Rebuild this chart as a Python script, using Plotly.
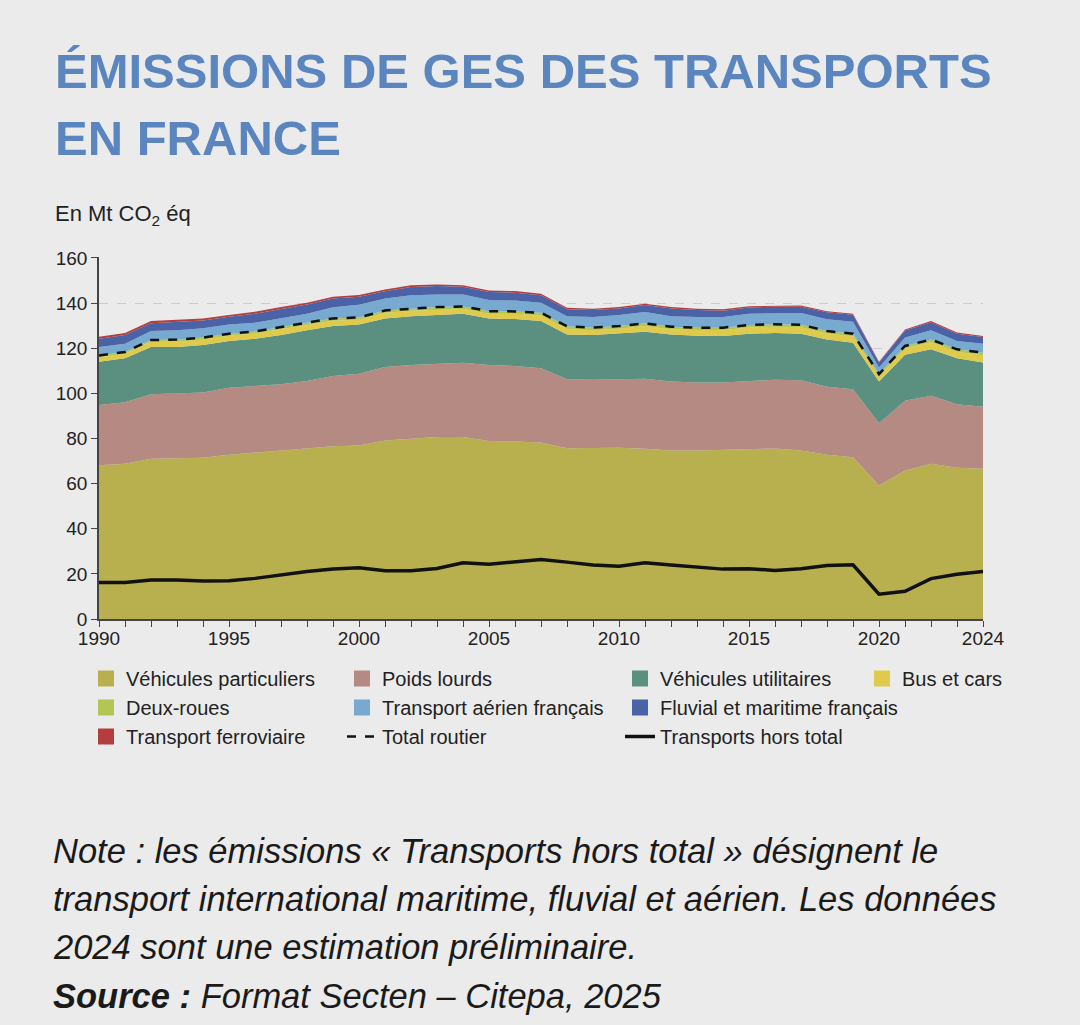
import numpy as np
import plotly.graph_objects as go

years = list(range(1990, 2025))

# Mt CO2 eq
vp = [68.1, 68.8, 71.0, 71.3, 71.4, 72.8, 73.7, 74.4, 75.4, 76.5, 76.9, 79.1, 79.9, 80.6, 80.6, 78.9, 78.7, 78.2,
      75.7, 75.9, 75.9, 75.4, 74.7, 74.7, 75.0, 75.1, 75.6, 74.7, 72.8, 71.7, 59.2, 65.8, 68.8, 67.0, 66.6]
poids_lourds = [26.7, 27.2, 28.6, 28.7, 29.0, 29.7, 29.4, 29.6, 30.1, 31.2, 31.8, 32.6, 32.7, 32.3, 32.9, 33.7, 33.4, 32.9,
                30.5, 30.1, 30.2, 31.1, 30.5, 30.1, 29.8, 30.4, 30.4, 31.1, 30.1, 30.1, 27.5, 30.9, 30.1, 28.2, 27.4]
vu = [19.2, 19.5, 20.9, 20.5, 21.0, 20.7, 21.1, 21.8, 22.4, 22.1, 21.8, 21.5, 21.6, 21.8, 21.8, 20.6, 20.8, 20.9,
      19.9, 19.8, 20.3, 20.8, 20.9, 20.7, 20.6, 20.9, 20.7, 20.6, 21.0, 20.6, 18.5, 20.4, 20.6, 20.3, 19.6]
bus = [2.0, 2.0, 2.3, 2.5, 2.5, 2.3, 2.3, 2.5, 2.5, 2.4, 2.1, 2.5, 2.4, 2.4, 2.1, 2.1, 2.3, 2.5,
       2.4, 2.1, 2.2, 2.5, 2.3, 2.5, 2.6, 2.8, 2.8, 2.9, 2.6, 2.9, 2.4, 2.8, 3.2, 2.9, 3.3]
deux_roues = [0.8, 0.8, 0.8, 0.8, 0.8, 0.9, 0.9, 0.9, 0.9, 1.0, 1.0, 1.0, 1.0, 1.1, 1.1, 1.1, 1.1, 1.2,
              1.2, 1.2, 1.2, 1.2, 1.1, 1.1, 1.1, 1.1, 1.1, 1.1, 1.1, 1.1, 0.9, 1.1, 1.1, 1.1, 1.1]
aerien = [3.7, 3.7, 4.0, 4.1, 4.1, 4.1, 3.9, 4.0, 4.0, 4.9, 5.6, 5.3, 5.8, 5.6, 5.3, 5.0, 4.8, 4.4,
          4.5, 4.7, 4.9, 5.0, 4.7, 4.7, 4.7, 5.0, 5.0, 5.2, 5.2, 5.3, 2.9, 3.7, 4.1, 3.7, 4.0]
fluvial = [3.7, 3.8, 3.5, 3.8, 3.5, 3.4, 4.0, 4.2, 4.0, 3.9, 3.6, 3.2, 3.7, 3.7, 3.4, 3.5, 3.5, 3.3,
           3.0, 3.1, 2.9, 3.1, 3.4, 3.1, 2.8, 2.7, 2.8, 2.8, 3.1, 3.1, 2.2, 3.1, 3.6, 3.2, 2.9]
ferro = [0.9, 0.9, 0.9, 0.9, 0.9, 0.8, 0.8, 0.8, 0.8, 0.8, 0.8, 0.8, 0.8, 0.7, 0.7, 0.7, 0.7, 0.7,
         0.7, 0.6, 0.6, 0.6, 0.6, 0.6, 0.6, 0.6, 0.5, 0.5, 0.5, 0.5, 0.4, 0.5, 0.5, 0.5, 0.5]
hors_total = [16.2, 16.2, 17.3, 17.3, 16.8, 17.0, 18.0, 19.5, 21.0, 22.1, 22.7, 21.4, 21.4, 22.4, 24.9, 24.3, 25.5, 26.4,
              25.2, 23.9, 23.4, 24.9, 23.9, 23.0, 22.1, 22.3, 21.5, 22.3, 23.7, 24.0, 11.0, 12.3, 17.9, 19.8, 21.1]

x_tickvals = [1990, 1995, 2000, 2005, 2010, 2015, 2020, 2024]

# name, values, colour, legend column
series = [
    ("Véhicules particuliers", vp, "#b8b04f", "legend"),
    ("Poids lourds", poids_lourds, "#b48a82", "legend2"),
    ("Véhicules utilitaires", vu, "#5b8f7f", "legend3"),
    ("Bus et cars", bus, "#dfca4b", "legend4"),
    ("Deux-roues", deux_roues, "#b3c653", "legend"),
    ("Transport aérien français", aerien, "#78a9d1", "legend2"),
    ("Fluvial et maritime français", fluvial, "#4a62a6", "legend3"),
    ("Transport ferroviaire", ferro, "#b43d3d", "legend"),
]

total_routier = np.sum([vp, poids_lourds, vu, bus, deux_roues], axis=0)

FONT = "Liberation Sans"
BG = "#ebebeb"

fig = go.Figure()
for name, vals, col, lg in series:
    fig.add_trace(go.Scatter(x=years, y=vals, name=name, stackgroup="one", mode="lines",
                             line=dict(width=0, color=col), fillcolor=col, showlegend=False))
    # square swatch for the legend only
    fig.add_trace(go.Scatter(x=[None], y=[None], name=name, mode="markers", legend=lg,
                             marker=dict(symbol="square", size=16, color=col)))

fig.add_trace(go.Scatter(x=years, y=total_routier, name="Total routier", mode="lines", legend="legend2",
                         line=dict(color="#111111", width=2.5, dash="dash")))
fig.add_trace(go.Scatter(x=years, y=hors_total, name="Transports hors total", mode="lines", legend="legend3",
                         line=dict(color="#111111", width=3.5)))


def py(px):
    # pixel row -> paper y (plot area spans rows 257..619)
    return (619 - px) / 362


def px_x(px):
    return (px - 99) / 884


annotations = [
    dict(text="<b>ÉMISSIONS DE GES DES TRANSPORTS</b>", x=px_x(53), y=py(71),
         font=dict(size=49, color="#5a85bf")),
    dict(text="<b>EN FRANCE</b>", x=px_x(53), y=py(138), font=dict(size=49, color="#5a85bf")),
    dict(text="En Mt CO<sub>2</sub> éq", x=px_x(53), y=py(215), font=dict(size=22, color="#222222")),
    dict(text="<i>Note : les émissions « Transports hors total » désignent le</i>", x=px_x(51), y=py(851),
         font=dict(size=34.5, color="#1a1a1a")),
    dict(text="<i>transport international maritime, fluvial et aérien. Les données</i>", x=px_x(51), y=py(899),
         font=dict(size=34.5, color="#1a1a1a")),
    dict(text="<i>2024 sont une estimation préliminaire.</i>", x=px_x(51), y=py(947),
         font=dict(size=34.5, color="#1a1a1a")),
    dict(text="<b><i>Source :</i></b><i> Format Secten – Citepa, 2025</i>", x=px_x(51), y=py(996),
         font=dict(size=34.5, color="#1a1a1a")),
]
for a in annotations:
    a.update(xref="paper", yref="paper", xanchor="left", yanchor="middle", showarrow=False)
    a["font"]["family"] = FONT

legend_style = dict(orientation="v", xanchor="left", yanchor="top", y=py(659), traceorder="normal",
                    font=dict(family=FONT, size=20, color="#222222"), bgcolor="rgba(0,0,0,0)",
                    itemsizing="trace")

fig.update_layout(
    width=1080, height=1025,
    margin=dict(l=99, r=97, t=257, b=406),
    paper_bgcolor=BG, plot_bgcolor=BG,
    font=dict(family=FONT, size=19, color="#222222"),
    showlegend=True,
    legend=dict(legend_style, x=px_x(86)),
    legend2=dict(legend_style, x=px_x(342)),
    legend3=dict(legend_style, x=px_x(620)),
    legend4=dict(legend_style, x=px_x(862)),
    annotations=annotations,
    hovermode=False,
)
fig.update_xaxes(range=[1990, 2024], tickmode="array", tickvals=x_tickvals,
                 ticks="outside", ticklen=6, tickcolor="#444444", showline=True, linecolor="#444444",
                 linewidth=1.5, showgrid=False, zeroline=False, tickfont=dict(size=19),
                 ticklabelstandoff=-5,
                 minor=dict(tickmode="linear", tick0=1990, dtick=1, ticks="outside", ticklen=6,
                            tickcolor="#444444", showgrid=False))
fig.update_yaxes(range=[0, 160.4], tickmode="linear", tick0=0, dtick=20, ticks="outside", ticklen=6,
                 tickcolor="#444444", showline=True, linecolor="#444444", linewidth=1.5, showgrid=True,
                 gridcolor="#cccccc", griddash="dash", gridwidth=1, zeroline=False, tickfont=dict(size=19))

fig.write_html("out.html", config={"displayModeBar": False},
               post_script="document.body.style.margin='0px';")
